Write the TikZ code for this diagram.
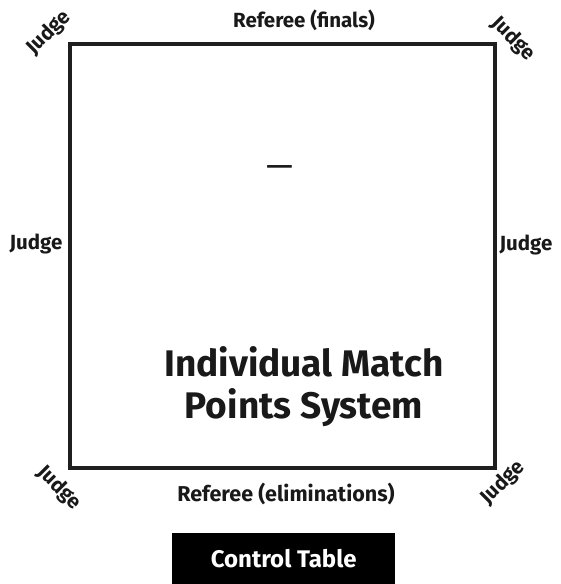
\documentclass[tikz,border=0pt]{standalone}
\usepackage{fontspec}
\setmainfont{Fira Sans}
\begin{document}
\begin{tikzpicture}[x=1pt,y=-1pt,
  lbl/.style={font=\fontsize{20.5}{22}\selectfont\bfseries, text=black!90, inner sep=0pt},
  big/.style={font=\fontsize{37}{40}\selectfont\bfseries, text=black!90, inner sep=0pt},
  field/.style={draw=black!88, line width=3.5pt}]
\useasboundingbox (0,0) rectangle (560,584);
\draw[field] (70,44) rectangle (495,468);
\node[lbl] (rf) at (304,20) {Referee (finals)};
\node[lbl, font=\fontsize{21.5}{23}\selectfont\bfseries] (re) at (286,494) {Referee (eliminations)};
\node[lbl, rotate=45] (jtl) at (49,33) {Judge};
\node[lbl, rotate=-45] (jtr) at (513,39) {Judge};
\node[lbl] (jl) at (36,244) {Judge};
\node[lbl] (jr) at (526,245) {Judge};
\node[lbl, rotate=-45] (jbl) at (59,488) {Judge};
\node[lbl, rotate=45] (jbr) at (503,483) {Judge};
\node[big] (t1) at (304,362) {Individual Match};
\node[big] (t2) at (304,408) {Points System};
\node[big, font=\fontsize{34}{36}\selectfont, anchor=base] (dash) at (280,177) {—};
\node[fill=black, minimum width=223pt, minimum height=51pt, inner sep=0pt, anchor=north west,
  font=\fontsize{24}{26}\selectfont\bfseries, text=white] (ct) at (172,533) {Control Table};
\end{tikzpicture}
\end{document}
